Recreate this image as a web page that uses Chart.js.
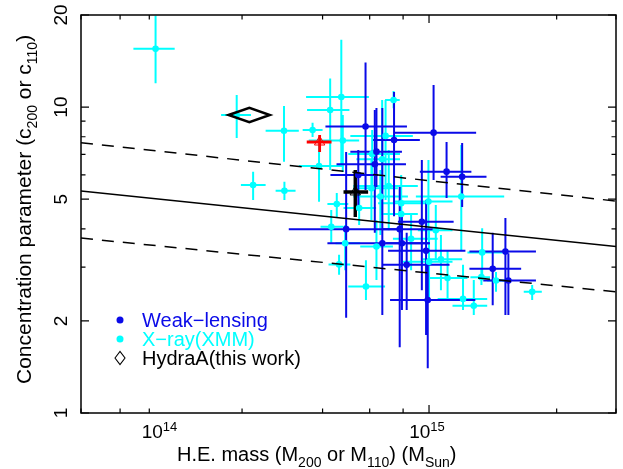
<!DOCTYPE html>
<html lang="en">
<head>
<meta charset="UTF-8">
<title>Concentration vs mass</title>
<script src="https://cdn.jsdelivr.net/npm/chart.js"></script>
<style>
  body { margin: 0; background: #fff; }
</style>
</head>
<body>
<canvas id="myChart" width="623" height="469"></canvas>
<script>
// weak-lensing clusters
const wlMass   = [5.79e14, 1.04e15, 7.40e14, 6.36e14, 6.27e14, 1.163e15, 1.33e15, 5.44e14, 9.40e14, 4.90e14, 7.77e14, 6.69e14, 7.92e14, 9.75e14, 1.93e15, 8.25e14, 1.73e15, 1.98e15, 9.89e14];
const wlMassLo = [4.10e14, 7.40e14, 6.18e14, 5.08e14, 4.51e14, 9.24e14, 1.105e15, 4.28e14, 7.65e14, 2.99e14, 6.68e14, 4.17e14, 6.91e14, 7.03e14, 1.416e15, 6.68e14, 1.416e15, 1.595e15, 7.15e14];
const wlMassHi = [8.27e14, 1.50e15, 9.24e14, 7.92e14, 8.20e14, 1.44e15, 1.64e15, 6.45e14, 1.236e15, 7.92e14, 1.077e15, 1.006e15, 1.006e15, 1.368e15, 2.51e15, 1.193e15, 2.21e15, 2.51e15, 1.49e15];
const wlConc   = [8.64, 8.25, 7.80, 7.15, 6.50, 6.15, 5.92, 6.00, 4.22, 3.99, 3.99, 3.59, 3.59, 3.39, 3.37, 3.05, 2.96, 2.71, 2.34];
const wlConcLo = [5.36, 5.78, 4.40, 5.48, 3.88, 5.04, 4.71, 4.61, 2.52, 2.05, 1.64, 2.09, 2.17, 1.80, 2.09, 2.17, 2.25, 2.09, 1.40];
const wlConcHi = [14.0, 11.8, 11.2, 9.93, 9.78, 7.69, 7.63, 7.24, 6.71, 7.13, 5.48, 9.93, 4.37, 4.97, 4.34, 3.88, 3.88, 3.33, 3.16];

// X-ray (XMM) clusters
const xrMass   = [9.5e13, 1.91e14, 2.87e14, 2.20e14, 2.88e14, 3.67e14, 4.70e14, 4.27e14, 7.37e14, 4.76e14, 6.88e14, 6.13e14, 6.68e14, 3.88e14, 7.07e14, 6.09e14, 1.32e15, 9.95e14, 6.58e14, 4.52e14, 7.87e14, 5.48e14, 4.31e14, 4.86e14, 4.61e14, 6.36e14, 8.57e14, 1.06e15, 1.58e15, 1.57e15, 1.108e15, 1.00e15, 1.173e15, 1.78e15, 2.43e15, 1.34e15, 1.47e15, 5.81e14, 7.87e14];
const xrMassLo = [7.85e13, 1.67e14, 2.45e14, 1.98e14, 2.67e14, 3.37e14, 3.47e14, 3.50e14, 6.85e14, 3.55e14, 5.08e14, 4.99e14, 5.35e14, 3.26e14, 5.21e14, 5.21e14, 8.93e14, 7.33e14, 5.21e14, 4.17e14, 6.45e14, 4.79e14, 3.93e14, 4.47e14, 4.21e14, 5.53e14, 7.33e14, 9.08e14, 1.392e15, 1.428e15, 9.48e14, 7.99e14, 9.89e14, 1.65e15, 2.26e15, 1.077e15, 1.224e15, 4.99e14, 6.74e14];
const xrMassHi = [1.12e14, 2.16e14, 3.26e14, 2.45e14, 3.17e14, 4.00e14, 5.96e14, 5.04e14, 7.77e14, 5.48e14, 8.70e14, 7.79e14, 7.79e14, 4.79e14, 9.08e14, 7.65e14, 1.91e15, 1.224e15, 8.34e14, 4.99e14, 9.89e14, 6.34e14, 4.79e14, 5.53e14, 5.08e14, 7.33e14, 1.077e15, 1.224e15, 1.88e15, 1.69e15, 1.33e15, 1.224e15, 1.392e15, 1.96e15, 2.64e15, 1.65e15, 1.65e15, 6.85e14, 9.08e14];
const xrConc   = [15.5, 9.42, 8.37, 5.56, 5.33, 8.42, 10.79, 9.78, 10.55, 7.77, 8.05, 7.03, 6.75, 6.42, 5.52, 5.43, 5.10, 4.91, 5.10, 4.82, 4.85, 4.68, 4.06, 3.59, 3.06, 3.50, 3.71, 3.96, 3.35, 2.78, 3.18, 3.12, 2.76, 2.71, 2.49, 2.36, 2.24, 2.59, 4.47];
const xrConcLo = [11.96, 7.93, 6.63, 4.97, 4.97, 7.99, 6.47, 6.23, 9.91, 6.13, 4.97, 5.56, 4.44, 4.90, 3.96, 4.27, 3.41, 3.68, 3.82, 4.37, 3.68, 4.12, 3.60, 2.93, 2.83, 2.72, 2.93, 3.16, 2.83, 2.62, 2.52, 2.34, 2.34, 2.49, 2.34, 2.17, 2.09, 2.34, 3.96];
const xrConcHi = [19.9, 10.95, 10.08, 6.15, 5.70, 8.89, 16.6, 12.4, 11.29, 9.42, 10.55, 8.42, 10.55, 7.99, 7.24, 6.71, 7.52, 6.71, 6.23, 5.24, 6.00, 5.24, 4.61, 4.12, 3.29, 4.27, 4.44, 4.79, 4.02, 2.98, 3.82, 3.96, 3.41, 2.89, 2.62, 3.05, 2.72, 3.16, 4.97];

// Hydra A (this work): centre and extent of the diamond
const hydraMass = [2.13e14], hydraMassLo = [1.78e14], hydraMassHi = [2.54e14];
const hydraConc = [9.42], hydraConcLo = [8.92], hydraConcHi = [9.95];

// the two triangles
const redMass = [3.90e14], redMassLo = [3.49e14], redMassHi = [4.32e14];
const redConc = [7.69], redConcLo = [7.13], redConcHi = [8.11];
const blkMass = [5.30e14], blkMassLo = [4.79e14], blkMassHi = [5.92e14];
const blkConc = [5.28], blkConcLo = [4.37], blkConcHi = [6.23];

// c-M relation and scatter
const fitMass  = [5e13, 5e15];
const fitConc  = [5.32, 3.50];
const fitUpper = [7.65, 4.93];
const fitLower = [3.73, 2.49];

// axes
const xTickMarks = [5e13, 6e13, 7e13, 8e13, 9e13, 1e14, 2e14, 3e14, 4e14, 5e14, 6e14, 7e14, 8e14, 9e14, 1e15, 2e15, 3e15, 4e15, 5e15];
const xTickLabels = [1e14, 1e15];
const xTickExp = ['14', '15'];
const yTickMarks = [1, 2, 3, 4, 5, 6, 7, 8, 9, 10, 20];
const yTickLabels = [1, 2, 5, 10, 20];
const legendLabels = ['Weak\u2212lensing', 'X\u2212ray(XMM)', 'HydraA(this work)'];

const BLUE = '#0a0ae8', CYAN = '#00ffff', RED = '#ff0000';
const FONT = '"Liberation Sans", Arial, sans-serif';

function pts(xs, ys) { return xs.map((v, i) => ({ x: v, y: ys[i] })); }
function errs(xl, xh, yl, yh) { return xl.map((v, i) => [v, xh[i], yl[i], yh[i]]); }

function drawRich(ctx, parts, x, y) {
  parts.forEach(p => {
    ctx.font = p.size + 'px ' + FONT;
    ctx.fillText(p.text, x, y + (p.dy || 0));
    x += ctx.measureText(p.text).width;
  });
}
function richWidth(ctx, parts) {
  return parts.reduce((w, p) => { ctx.font = p.size + 'px ' + FONT; return w + ctx.measureText(p.text).width; }, 0);
}

const errorBars = {
  id: 'errorBars',
  beforeDatasetsDraw(chart) {
    const { ctx, scales: { x, y } } = chart;
    ctx.save();
    ctx.beginPath();
    ctx.rect(chart.chartArea.left, chart.chartArea.top, chart.chartArea.width, chart.chartArea.height);
    ctx.clip();
    const sets = chart.data.datasets.slice().reverse();
    sets.forEach(ds => {
      if (!ds.err) return;
      ctx.strokeStyle = ds.errColor;
      ctx.lineWidth = ds.errWidth;
      ds.data.forEach((p, j) => {
        const e = ds.err[j];
        const px = x.getPixelForValue(p.x), py = y.getPixelForValue(p.y);
        ctx.beginPath();
        ctx.moveTo(x.getPixelForValue(e[0]), py);
        ctx.lineTo(x.getPixelForValue(e[1]), py);
        ctx.moveTo(px, y.getPixelForValue(e[2]));
        ctx.lineTo(px, y.getPixelForValue(e[3]));
        ctx.stroke();
      });
    });
    ctx.restore();
  }
};

// Hydra A is drawn as an open diamond spanning its mass/concentration range
const hydraMarker = {
  id: 'hydraMarker',
  afterDatasetsDraw(chart) {
    const { ctx, scales: { x, y } } = chart;
    ctx.save();
    ctx.strokeStyle = '#000';
    ctx.lineWidth = 2.5;
    hydraMass.forEach((m, i) => {
      const cx = x.getPixelForValue(m), cy = y.getPixelForValue(hydraConc[i]);
      ctx.beginPath();
      ctx.moveTo(x.getPixelForValue(hydraMassLo[i]), cy);
      ctx.lineTo(cx, y.getPixelForValue(hydraConcHi[i]));
      ctx.lineTo(x.getPixelForValue(hydraMassHi[i]), cy);
      ctx.lineTo(cx, y.getPixelForValue(hydraConcLo[i]));
      ctx.closePath();
      ctx.stroke();
    });
    ctx.restore();
  }
};

const frame = {
  id: 'frame',
  afterDraw(chart) {
    const { ctx, chartArea: a, scales: { x, y } } = chart;
    ctx.save();
    ctx.strokeStyle = '#000';
    ctx.lineWidth = 1.5;
    ctx.strokeRect(a.left, a.top, a.right - a.left, a.bottom - a.top);

    // inward ticks on all four sides
    ctx.lineWidth = 1.2;
    x.ticks.forEach(t => {
      const px = x.getPixelForValue(t.value);
      const len = xTickLabels.some(v => Math.abs(v - t.value) < v * 1e-6) ? 8 : 4.5;
      ctx.beginPath();
      ctx.moveTo(px, a.bottom); ctx.lineTo(px, a.bottom - len);
      ctx.moveTo(px, a.top); ctx.lineTo(px, a.top + len);
      ctx.stroke();
    });
    y.ticks.forEach(t => {
      const py = y.getPixelForValue(t.value);
      const len = yTickLabels.includes(t.value) ? 8 : 4.5;
      ctx.beginPath();
      ctx.moveTo(a.left, py); ctx.lineTo(a.left + len, py);
      ctx.moveTo(a.right, py); ctx.lineTo(a.right - len, py);
      ctx.stroke();
    });

    ctx.fillStyle = '#000';
    ctx.textBaseline = 'alphabetic';
    ctx.textAlign = 'left';

    // x tick labels: 10^14, 10^15
    xTickLabels.forEach((v, i) => {
      const parts = [{ text: '10', size: 19 }, { text: xTickExp[i], size: 13, dy: -7 }];
      const w = richWidth(ctx, parts);
      drawRich(ctx, parts, x.getPixelForValue(v) - w / 2 - 2, 438);
    });

    // y tick labels, rotated
    yTickLabels.forEach(v => {
      const py = y.getPixelForValue(v);
      ctx.save();
      ctx.translate(67, py);
      ctx.rotate(-Math.PI / 2);
      ctx.font = '19px ' + FONT;
      ctx.textAlign = 'center';
      ctx.fillText(String(v), 0, 0);
      ctx.restore();
    });

    // axis titles
    const xTitle = [
      { text: 'H.E. mass (M', size: 20 }, { text: '200', size: 14, dy: 6 },
      { text: ' or M', size: 20 }, { text: '110', size: 14, dy: 6 },
      { text: ') (M', size: 20 }, { text: 'Sun', size: 14, dy: 6 }, { text: ')', size: 20 }
    ];
    drawRich(ctx, xTitle, 177, 461);

    const yTitle = [
      { text: 'Concentration parameter (c', size: 21 }, { text: '200', size: 14, dy: 6 },
      { text: ' or c', size: 21 }, { text: '110', size: 14, dy: 6 }, { text: ')', size: 21 }
    ];
    ctx.save();
    ctx.translate(31, 384);
    ctx.rotate(-Math.PI / 2);
    drawRich(ctx, yTitle, 0, 0);
    ctx.restore();

    // legend
    const lx = 120, tx = 142, rows = [327, 346, 365];
    const colors = [BLUE, CYAN, '#000'];
    ctx.font = '20px ' + FONT;
    legendLabels.forEach((lab, i) => {
      const cy = rows[i] - 7;
      if (i < 2) {
        ctx.fillStyle = colors[i];
        ctx.beginPath();
        ctx.arc(lx, cy, 3.5, 0, Math.PI * 2);
        ctx.fill();
      } else {
        ctx.strokeStyle = '#000';
        ctx.lineWidth = 1.1;
        ctx.beginPath();
        ctx.moveTo(lx - 5, cy); ctx.lineTo(lx, cy - 6.5);
        ctx.lineTo(lx + 5, cy); ctx.lineTo(lx, cy + 6.5);
        ctx.closePath();
        ctx.stroke();
      }
      ctx.fillStyle = colors[i];
      ctx.fillText(lab, tx, rows[i]);
    });
    ctx.restore();
  }
};

const ctx = document.getElementById('myChart').getContext('2d');

const chart = new Chart(ctx, {
  type: 'scatter',
  data: {
    datasets: [{
      label: 'fit',
      data: pts(fitMass, fitConc),
      showLine: true,
      borderColor: '#000',
      borderWidth: 1.5,
      pointRadius: 0
    }, {
      label: 'upper',
      data: pts(fitMass, fitUpper),
      showLine: true,
      borderColor: '#000',
      borderWidth: 1.5,
      borderDash: [12, 9],
      pointRadius: 0
    }, {
      label: 'lower',
      data: pts(fitMass, fitLower),
      showLine: true,
      borderColor: '#000',
      borderWidth: 1.5,
      borderDash: [12, 9],
      pointRadius: 0
    }, {
      label: 'black triangle',
      data: pts(blkMass, blkConc),
      err: errs(blkMassLo, blkMassHi, blkConcLo, blkConcHi),
      errColor: '#000',
      errWidth: 3.4,
      pointStyle: 'triangle',
      pointRadius: 6,
      borderColor: '#000',
      borderWidth: 1,
      backgroundColor: 'rgba(0,0,0,0)'
    }, {
      label: 'red triangle',
      data: pts(redMass, redConc),
      err: errs(redMassLo, redMassHi, redConcLo, redConcHi),
      errColor: RED,
      errWidth: 2.8,
      pointStyle: 'triangle',
      pointRadius: 6,
      borderColor: RED,
      borderWidth: 1,
      backgroundColor: 'rgba(0,0,0,0)'
    }, {
      label: 'HydraA(this work)',
      data: pts(hydraMass, hydraConc),
      pointRadius: 0
    }, {
      label: 'Weak-lensing',
      data: pts(wlMass, wlConc),
      err: errs(wlMassLo, wlMassHi, wlConcLo, wlConcHi),
      errColor: BLUE,
      errWidth: 2,
      pointRadius: 3.3,
      borderWidth: 0,
      backgroundColor: BLUE
    }, {
      label: 'X-ray(XMM)',
      data: pts(xrMass, xrConc),
      err: errs(xrMassLo, xrMassHi, xrConcLo, xrConcHi),
      errColor: CYAN,
      errWidth: 2,
      pointRadius: 3.3,
      borderWidth: 0,
      backgroundColor: CYAN
    }]
  },
  options: {
    responsive: false,
    animation: false,
    events: [],
    layout: {
      padding: { left: 81, top: 15, right: 3, bottom: 56 }
    },
    scales: {
      x: {
        type: 'logarithmic',
        min: 5e13,
        max: 5e15,
        display: false,
        afterBuildTicks: s => { s.ticks = xTickMarks.map(v => ({ value: v })); }
      },
      y: {
        type: 'logarithmic',
        min: 1,
        max: 20,
        display: false,
        afterBuildTicks: s => { s.ticks = yTickMarks.map(v => ({ value: v })); }
      }
    },
    plugins: {
      legend: { display: false },
      tooltip: { enabled: false }
    }
  },
  plugins: [errorBars, hydraMarker, frame]
});
</script>
</body>
</html>
